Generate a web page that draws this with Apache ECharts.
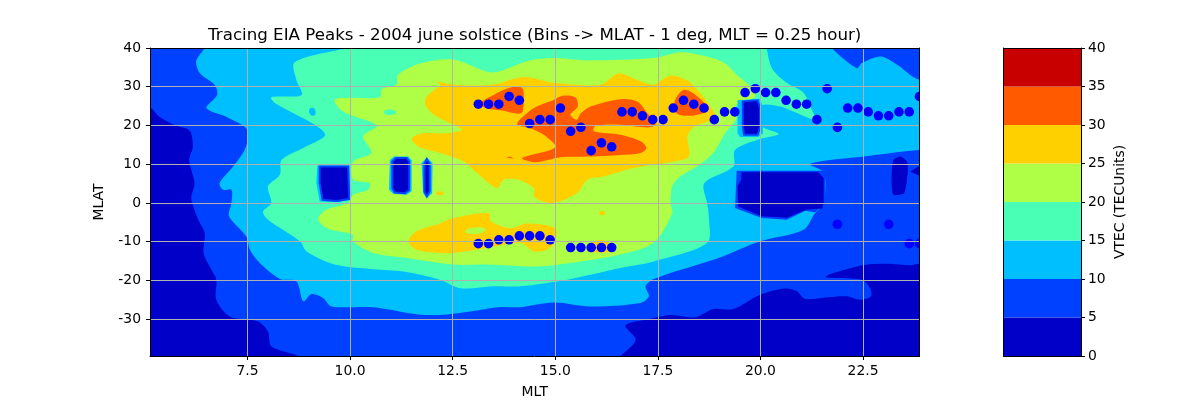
<!DOCTYPE html>
<html><head><meta charset="utf-8">
<style>html,body{margin:0;padding:0;background:#fff}#c{width:1200px;height:400px}</style>
<script src="https://cdn.jsdelivr.net/npm/echarts@6/dist/echarts.min.js"></script>
</head><body><div id="c"></div>
<script>
const levels = [0,5,10,15,20,25,30,35,40];
const levelColors = ['#0000c8','#0040ff','#00bfff','#48ffb5','#afff47','#ffd000','#ff5a00','#c80000'];
const mltTicks = [7.5,10,12.5,15,17.5,20,22.5];
const mlatTicks = [-30,-20,-10,0,10,20,30,40];
const mltRange = [5.125,23.875];
const mlatRange = [-39.5,40];

// Peak traces
const peakMLT = [13.125,13.375,13.625,13.875,14.125,14.375,14.625,14.875,15.125,15.375,15.625,15.875,16.125,16.375,16.625,16.875,17.125,17.375,17.625,17.875,18.125,18.375,18.625,18.875,19.125,19.375,19.625,19.875,20.125,20.375,20.625,20.875,21.125,21.375,21.625,21.875,22.125,22.375,22.625,22.875,23.125,23.375,23.625,23.875];
const peakMLAT = [25.5,25.5,25.5,27.5,26.5,20.5,21.5,21.5,24.5,18.5,19.5,13.5,15.5,14.5,23.5,23.5,22.5,21.5,21.5,24.5,26.5,25.5,24.5,21.5,23.5,23.5,28.5,29.5,28.5,28.5,26.5,25.5,25.5,21.5,29.5,19.5,24.5,24.5,23.5,22.5,22.5,23.5,23.5,27.5];
const southMLT = [13.125,13.375,13.625,13.875,14.125,14.375,14.625,14.875,15.375,15.625,15.875,16.125,16.375,21.875,23.125,23.625,23.875];
const southMLAT = [-10.5,-10.5,-9.5,-9.5,-8.5,-8.5,-8.5,-9.5,-11.5,-11.5,-11.5,-11.5,-11.5,-5.5,-5.5,-10.5,-10.5];

// Filled contour outlines [MLT, MLAT]; edge vertices run just past the axes and are clipped
const base5 = [[4,-43],[25,-43],[25,43],[4,43]];
const lowWest = [[4,25],[5.125,24.5],[5.36,22.2],[5.77,19.9],[6.09,18.7],[6.17,14.6],[6.08,11.1],[6.21,5.1],[6.13,1.7],[6.15,0],[6.3,-4.3],[6.46,-7.8],[6.43,-12.9],[6.62,-17.2],[6.74,-19.8],[6.74,-25],[7.07,-29.3],[7.76,-30.6],[8,-33.2],[8.08,-37],[8.73,-39.5],[9.2,-43],[4,-43]];
const lowEast = [[16.2,-43],[16.59,-39.5],[16.96,-35.3],[16.71,-31.6],[17.24,-30.1],[17.81,-28.9],[18.42,-29.5],[18.85,-27.4],[19.34,-27.4],[19.99,-23.7],[20.6,-22.1],[20.89,-22.8],[21.09,-24.8],[21.7,-24.3],[22.1,-24.1],[22.43,-25],[22.69,-24.1],[22.67,-22],[22.47,-19.8],[21.59,-19.1],[22.43,-16.2],[23.08,-15.7],[23.65,-16.1],[23.875,-15.7],[25,-15.5],[25,-43]];
const band10 = [[6.6,43],[6.46,40],[6.25,36.6],[6.34,33.5],[6.7,30.5],[6.76,27.9],[6.5,24.5],[6.99,22.2],[7.47,19.3],[7.51,16.7],[7.43,13.7],[7.15,9.4],[6.82,5.1],[6.91,3.4],[7.11,3.4],[7.11,0],[7.05,-3.4],[7.47,-8.6],[7.56,-12.1],[7.8,-15.5],[8.29,-19.6],[8.69,-20.2],[8.86,-25.4],[9.06,-23.5],[9.34,-24.5],[9.55,-26.7],[10.56,-26.9],[11.62,-28.7],[12.19,-28.9],[12.93,-28],[13.62,-26.9],[14.15,-26.9],[14.96,-25.7],[15.86,-26.7],[17.08,-25.8],[17.28,-24.1],[17.2,-21.5],[17.4,-19.6],[19.03,-14],[19.99,-9.9],[21.05,-6.9],[21.33,-2.6],[21.54,0],[21.55,7.7],[21.21,10.1],[22.51,12],[23.875,13.7],[25,14],[25,31.5],[23.875,31.8],[23.33,35.7],[22.93,37.8],[22.47,36.1],[22.35,34.8],[21.74,40],[21.6,43]];
const band15 = [[10.2,43],[9.99,40],[9.75,39.6],[8.65,36.3],[8.69,31.8],[8.82,27.9],[8.08,27.3],[8.17,25.8],[8.69,22.8],[9.18,19.9],[9.39,17.4],[8.86,14.2],[8.33,11.1],[8.29,7.3],[8,4.3],[8.08,0],[7.88,-2.2],[8,-4.3],[8.78,-9.9],[8.94,-12.5],[9.63,-15.9],[10.56,-17.1],[11.3,-17.7],[12.19,-19.8],[12.69,-22],[13.5,-21.5],[14.15,-21.5],[15.29,-19.8],[16.59,-16.8],[17.4,-15.1],[18.7,-10.3],[18.74,-3.4],[18.7,0],[18.63,5.1],[19.34,9.4],[19.38,13.7],[19.99,16.5],[20.44,17.8],[20.03,19.9],[20.03,25.1],[20.48,24.9],[21.33,21.5],[21.25,24.1],[21.05,28.4],[20.64,31],[20.28,34.8],[20.15,40],[20.1,43]];
const spot10 = [[9,23.6],[9.08,24.6],[9.16,23.5],[9.1,22.5]];
const band20 = [[11.17,33.1],[11.7,36],[12.52,37],[13.46,33.7],[14.31,36.6],[14.96,37.4],[15.78,36.8],[17.4,37.4],[18.05,38.9],[18.61,38],[19.1,36.3],[19.42,33.1],[19.71,30.5],[19.87,27.5],[19.38,24.9],[19.42,21.9],[19.14,18],[18.85,12.9],[18.45,9.4],[18.04,6.8],[17.85,4.3],[17.81,0],[17.85,-2.6],[17.4,-10.3],[16.59,-13.3],[15.37,-15.5],[14.56,-16.4],[13.34,-15.9],[12.52,-15.9],[11.38,-14.2],[10.56,-12.9],[10.07,-9.9],[10.07,-8.2],[9.43,-6.5],[9.22,-4.1],[9.43,-1.7],[9.95,0],[10.08,2.1],[10.44,3.4],[10.48,5.1],[10.08,6],[10.08,10.7],[10.52,12.9],[10.32,17.2],[10.65,20],[9.83,23.6],[9.63,26.8],[10.73,27.3],[10.77,29.4],[11.13,30.5]];
const spot15 = [[10.82,23.4],[10.95,24.1],[11.12,23.4],[10.95,22.7]];
const band25North = [[12.08,31.4],[12.52,30.5],[13.46,30.5],[14.23,32.5],[14.96,31],[16.1,30.5],[16.55,33.4],[17.08,31.4],[17.4,30.5],[17.81,32.9],[18.22,31.6],[18.46,29.2],[18.78,24.9],[18.91,21.9],[18.38,19.6],[18.22,17.2],[18.26,12],[17.89,10.7],[16.91,9],[16.18,6.8],[15.78,6],[15.53,2.5],[14.92,0],[14.48,1.7],[14.48,3.8],[14.11,6],[13.74,6],[13.58,3.8],[13.05,8.1],[12.77,10.7],[12.2,12.9],[11.66,14.6],[11.5,16.7],[11.78,18],[12.36,18],[12.73,18.9],[12.52,20.2],[12.04,22.8],[11.83,25.4],[11.87,27.5],[12.2,30.5]];
const band25South = [[11.42,-9.9],[11.62,-7.3],[12.19,-5.3],[12.52,-3.9],[13.38,-2.6],[13.43,-4.7],[13.91,-6.5],[14.31,-5.3],[15,-6.5],[15,-9.9],[14.8,-12.1],[14.48,-12.5],[14.15,-10.3],[13.34,-11.6],[12.52,-12.9],[12.19,-12.9],[11.62,-12.1]];
const band25Lump = [[15.78,-11.2],[15.94,-9.9],[16.18,-9.6],[16.35,-10.8],[16.35,-12.5],[15.78,-12.5]];
const spot25a = [[12.1,2.5],[12.2,3],[12.28,2.4],[12.18,2]];
const spot25b = [[16.07,-2.6],[16.14,-2],[16.21,-2.6],[16.14,-3.2]];
const hole20 = [[12.81,-7.3],[13.05,-6.3],[13.3,-6.9],[13.05,-8]];
const band30a = [[13.17,25.8],[13.5,27.9],[13.87,29.7],[14.19,29.7],[14.23,26.6],[14.17,23.2],[13.66,23.9],[13.3,24.5]];
const band30b = [[14.07,20.4],[14.48,24.5],[14.96,26.6],[15.17,27.7],[15.49,27.3],[15.55,24.9],[15.37,22.8],[15.53,21.5],[15.61,23],[15.86,24.9],[16.59,26.8],[17,26.2],[17.24,23.2],[17.44,20.2],[17.24,19.5],[16.59,20.2],[15.98,19.9],[15.94,18.5],[16.59,17.6],[17.08,15.9],[17.22,14.2],[17.08,12.9],[16.59,12.4],[15.86,12],[15.13,11.8],[14.52,10.5],[14.19,11.6],[15,14.4],[14.72,17.6],[14.39,19.3]];
const band30c = [[17.91,26.2],[18.13,29.2],[18.42,27.9],[18.74,24.1],[18.38,22.6],[17.97,23]];
const spot30 = [[13.81,11.7],[13.89,12],[13.99,11.5]];
// Data-gap holes: outer rim and inner core
const gapAOuter = [[9.2,9.7],[10.01,9.7],[10.03,1.7],[9.75,0.2],[9.26,0.4],[9.18,5.1]];
const gapAInner = [[9.26,9.4],[9.95,9.4],[9.98,1],[9.67,0.5],[9.33,0.8],[9.26,5.1]];
const gapBOuter = [[10.97,11.1],[11.07,12],[11.42,12],[11.5,11],[11.5,3],[11.38,2.1],[11.05,2.4],[10.95,3.4]];
const gapBInner = [[11.03,10.7],[11.12,11.6],[11.38,11.6],[11.44,10.7],[11.44,3.4],[11.34,2.5],[11.09,2.7],[11.03,3.8]];
const gapCOuter = [[11.74,10.3],[11.87,11.8],[12.01,10.3],[12,2.5],[11.87,1.2],[11.78,2.5]];
const gapCInner = [[11.81,10.1],[11.87,11.3],[11.94,10.1],[11.94,3],[11.87,1.7],[11.81,3]];
const gapDOuter = [[19.44,26.5],[19.99,26.9],[20.06,24.9],[20.06,18],[19.95,17],[19.5,17],[19.44,18]];
const gapDInner = [[19.57,26.2],[19.93,26.5],[19.99,24.5],[19.99,19.6],[19.93,17.6],[19.6,17.6],[19.57,19.8]];
const gapERim = [[19.42,8.3],[21.58,8.3],[21.58,0],[21.33,-2.4],[21.09,-2],[20.64,-4.3],[20.03,-3.9],[19.38,-1.3]];
const gapECore = [[19.54,7.9],[21.41,7.9],[21.54,6.4],[21.54,0],[21.5,-1.4],[21.13,-1.7],[20.64,-3.8],[20.03,-3.4],[19.46,-0.9],[19.44,4.3],[19.53,6]];
const gapFCore = [[23.2,7.7],[23.24,11.1],[23.41,12],[23.57,10.7],[23.59,8.1],[23.5,2.5],[23.24,2.1],[23.2,4.3]];
const gapGCore = [[23.65,8.1],[23.875,9.6],[25,9.6],[25,7],[23.875,7]];

// paint order: [outline, colour index, rim colour index or -1, smoothing]
const paint = [
 [base5,1,-1,0],[lowWest,0,-1,0.3],[lowEast,0,-1,0.3],[band10,2,-1,0.3],[band15,3,-1,0.3],[spot10,2,-1,0.6],
 [band20,4,-1,0.3],[spot15,3,-1,0.6],[band25North,5,-1,0.3],[band25South,5,-1,0.3],[band25Lump,5,-1,0.3],[spot25a,5,-1,0.6],[spot25b,5,-1,0.6],[hole20,4,-1,0.6],
 [band30a,6,-1,0.3],[band30b,6,-1,0.3],[band30c,6,-1,0.3],[spot30,6,-1,0],
 [gapAOuter,2,-1,0],[gapAInner,0,1,0],[gapBOuter,2,-1,0],[gapBInner,0,1,0],[gapCOuter,2,-1,0],[gapCInner,0,1,0],[gapDOuter,2,-1,0],[gapDInner,0,1,0],
 [gapERim,1,-1,0],[gapECore,0,-1,0],[gapFCore,0,-1,0.2],[gapGCore,0,-1,0]
];

const font = 'DejaVu Sans';
const labelStyle = {color:'#000',fontFamily:font,fontSize:13.9};
const lineBlack = {color:'#000',width:1};
const gridLine = {color:'#b0b0b0',width:1};
const chart = echarts.init(document.getElementById('c'),null,{renderer:'canvas'});
const peaks = peakMLT.map((m,i)=>[m,peakMLAT[i]]).concat(southMLT.map((m,i)=>[m,southMLAT[i]]));
const bands = levelColors.map((c,i)=>[i]);

chart.setOption({
 animation:false,
 backgroundColor:'#fff',
 title:{text:'Tracing EIA Peaks - 2004 june solstice (Bins -> MLAT - 1 deg, MLT = 0.25 hour)',left:529.7,top:22,textAlign:'center',
   textStyle:{color:'#000',fontFamily:font,fontSize:16.67,fontWeight:'normal'}},
 grid:[{left:150,width:769.5,top:48,height:308,outerBoundsMode:'none'},{left:1003.5,width:77.5,top:48,height:308,outerBoundsMode:'none'}],
 xAxis:[
  {type:'value',gridIndex:0,min:mltRange[0],max:mltRange[1],z:10,name:'MLT',nameLocation:'middle',nameGap:29,nameTextStyle:labelStyle,
   axisLine:{onZero:false,lineStyle:lineBlack},axisTick:{length:4,lineStyle:lineBlack,customValues:mltTicks},
   axisLabel:{...labelStyle,margin:8,customValues:mltTicks,formatter:v=>v.toFixed(1)},splitLine:{show:true,lineStyle:gridLine,customValues:mltTicks}},
  {type:'value',gridIndex:0,position:'top',min:mltRange[0],max:mltRange[1],z:11,axisLine:{onZero:false,lineStyle:lineBlack},axisTick:{show:false},axisLabel:{show:false},splitLine:{show:false}},
  {type:'value',gridIndex:1,min:0,max:1,z:10,axisLine:{onZero:false,lineStyle:lineBlack},axisTick:{show:false},axisLabel:{show:false},splitLine:{show:false}},
  {type:'value',gridIndex:1,position:'top',min:0,max:1,z:10,axisLine:{onZero:false,lineStyle:lineBlack},axisTick:{show:false},axisLabel:{show:false},splitLine:{show:false}}
 ],
 yAxis:[
  {type:'value',gridIndex:0,min:mlatRange[0],max:mlatRange[1],z:10,name:'MLAT',nameLocation:'middle',nameGap:44,nameTextStyle:labelStyle,
   axisLine:{onZero:false,lineStyle:lineBlack},axisTick:{length:4,lineStyle:lineBlack,customValues:mlatTicks},
   axisLabel:{...labelStyle,margin:9,customValues:mlatTicks},splitLine:{show:true,lineStyle:gridLine,customValues:mlatTicks}},
  {type:'value',gridIndex:0,position:'right',min:mlatRange[0],max:mlatRange[1],z:11,axisLine:{onZero:false,lineStyle:lineBlack},axisTick:{show:false},axisLabel:{show:false},splitLine:{show:false}},
  {type:'value',gridIndex:1,position:'right',min:levels[0],max:levels[8],interval:5,z:10,name:'VTEC (TECUnits)',nameLocation:'middle',nameGap:32,nameTextStyle:labelStyle,
   axisLine:{onZero:false,lineStyle:lineBlack},axisTick:{length:4,lineStyle:lineBlack},axisLabel:{...labelStyle,margin:7},splitLine:{show:false}},
  {type:'value',gridIndex:1,position:'left',min:levels[0],max:levels[8],z:10,axisLine:{onZero:false,lineStyle:lineBlack},axisTick:{show:false},axisLabel:{show:false},splitLine:{show:false}}
 ],
 series:[
  {type:'custom',xAxisIndex:0,yAxisIndex:0,clip:true,z:2,silent:true,data:paint.map((p,i)=>[i]),
   renderItem:(params,api)=>{
     const p = paint[api.value(0)];
     return {type:'polygon',shape:{points:p[0].map(q=>api.coord(q)),smooth:p[3]},
       style:{fill:levelColors[p[1]],stroke:p[2]>=0?levelColors[p[2]]:null,lineWidth:p[2]>=0?2:0}};
   }},
  {type:'custom',xAxisIndex:0,yAxisIndex:0,clip:true,z:3,silent:true,data:peaks,
   renderItem:(params,api)=>{
     const c = api.coord([api.value(0),api.value(1)]);
     return {type:'circle',shape:{cx:c[0],cy:c[1],r:4.8},style:{fill:'#0000ff'}};
   }},
  {type:'custom',xAxisIndex:2,yAxisIndex:2,clip:true,z:2,silent:true,data:bands,
   renderItem:(params,api)=>{
     const i = api.value(0);
     const a = api.coord([0,levels[i]]), b = api.coord([1,levels[i+1]]);
     return {type:'rect',shape:{x:a[0],y:b[1],width:b[0]-a[0],height:a[1]-b[1]},style:{fill:levelColors[i]}};
   }}
 ]
});
</script></body></html>
